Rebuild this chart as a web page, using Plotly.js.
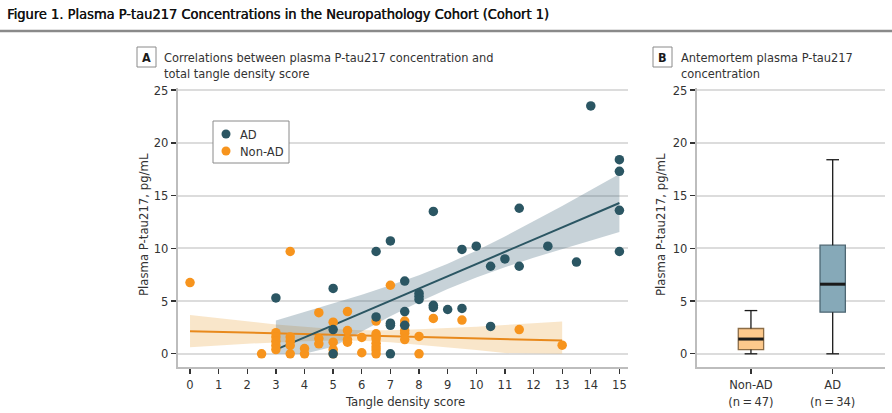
<!DOCTYPE html>
<html>
<head>
<meta charset="utf-8">
<script src="https://cdn.plot.ly/plotly-3.0.1.min.js"></script>
<style>
html,body{margin:0;padding:0;background:#fff;}
#chart{width:892px;height:413px;}
</style>
</head>
<body>
<div id="chart"></div>
<script>
// ---------- Data ----------
// Panel A: AD scatter
const adX = [3,5,5,5,6.5,6.5,7,7,7,7,7.5,7.5,7.5,8,8,8,8.5,8.5,8.5,9,9.5,9.5,10,10.5,10.5,11,11.5,11.5,12.5,13.5,14,15,15,15,15];
const adY = [5.3,6.2,2.3,0,9.7,3.5,10.7,2.9,2.7,0,6.9,4.0,2.7,5.75,5.45,5.15,13.5,4.6,4.4,4.2,4.3,9.9,10.2,8.3,2.6,9.0,13.8,8.3,10.2,8.7,23.5,18.4,17.3,13.6,9.7];
// Panel A: Non-AD scatter
const nonX = [0,2.5,3,3,3,3,3,3.5,3.5,3.5,3.5,3.5,4,4,4.5,4.5,4.5,5,5,5,5,5.5,5.5,5.5,5.5,6,6,6.5,6.5,6.5,6.5,6.5,6.5,6.5,6.5,7,7.5,7.5,7.5,7.5,7.5,8,8,8.5,9.5,11.5,13];
const nonY = [6.75,0,2.0,1.6,1.2,0.8,0.4,9.7,1.6,1.2,0.8,0,0.5,0,3.9,1.45,0.95,3.0,1.1,0.4,0,4.0,2.2,1.35,1.1,1.55,0.1,3.1,1.9,1.65,1.4,1.0,0.65,0.35,0,6.5,3.1,2.75,2.2,1.95,1.35,1.65,0,3.35,3.2,2.3,0.82];
// Panel A: fitted lines with 95% bands
const adFitX   = [3,4,5,6,7,8,9,10,11,12,13,14,15];
const adFitY   = [0.4,1.56,2.72,3.88,5.03,6.19,7.35,8.51,9.67,10.83,11.98,13.14,14.3];
const adFitUp  = [3.15,3.95,4.76,5.6,6.49,7.46,8.55,9.78,11.13,12.55,14.02,15.53,17.05];
const adFitLo  = [0,0,0.68,2.16,3.57,4.92,6.15,7.24,8.21,9.11,9.94,10.75,11.55];
const nonFitX  = [0,1,2,3,4,5,6,7,8,9,10,11,12,13];
const nonFitY  = [2.15,2.08,2.01,1.94,1.88,1.81,1.74,1.67,1.60,1.53,1.47,1.40,1.33,1.26];
const nonFitUp = [3.67,3.38,3.06,2.79,2.57,2.36,2.24,2.24,2.32,2.43,2.57,2.73,2.9,3.06];
const nonFitLo = [0.63,0.78,0.96,1.09,1.19,1.26,1.24,1.1,0.88,0.63,0.37,0.07,0,0];
const xTicksA = [0,1,2,3,4,5,6,7,8,9,10,11,12,13,14,15];
const yTicks  = [0,5,10,15,20,25];
const legendNames = ['AD','Non-AD'];
// Panel B: box plots
const boxCats   = ['Non-AD','AD'];
const boxN      = [47,34];
const boxLow    = [0,0];
const boxQ1     = [0.4,3.95];
const boxMed    = [1.4,6.6];
const boxQ3     = [2.4,10.3];
const boxHigh   = [4.1,18.4];

// ---------- Styles ----------
const W = 892, H = 413;
const FONT = "'Liberation Sans Narrow','DejaVu Sans Condensed','Arial Narrow',sans-serif";
const TXT = '#333333';
const AD_C = '#2b5663', NON_C = '#f7941d';
const px = x => x / W, py = y => 1 - y / H;
const boxFill = ['#fdc98c', '#86a9b8'];
const boxLine = ['#8c6d47', '#4e6773'];
const boxHalf = 0.155;

const traces = [];
// bands
traces.push({x: nonFitX.concat(nonFitX.slice().reverse()), y: nonFitUp.concat(nonFitLo.slice().reverse()),
  type:'scatter', mode:'lines', fill:'toself', fillcolor:'rgba(238,178,95,0.33)', line:{width:0},
  hoverinfo:'skip', showlegend:false, xaxis:'x', yaxis:'y'});
traces.push({x: adFitX.concat(adFitX.slice().reverse()), y: adFitUp.concat(adFitLo.slice().reverse()),
  type:'scatter', mode:'lines', fill:'toself', fillcolor:'rgba(70,105,125,0.3)', line:{width:0},
  hoverinfo:'skip', showlegend:false, xaxis:'x', yaxis:'y'});
// fit lines
traces.push({x: nonFitX, y: nonFitY, type:'scatter', mode:'lines', line:{color:'#e8891c', width:2},
  showlegend:false, xaxis:'x', yaxis:'y'});
traces.push({x: adFitX, y: adFitY, type:'scatter', mode:'lines', line:{color:AD_C, width:2},
  showlegend:false, xaxis:'x', yaxis:'y'});
// points
traces.push({x: nonX, y: nonY, type:'scatter', mode:'markers', name:'Non-AD', showlegend:false,
  marker:{color:NON_C, size:9.5}, xaxis:'x', yaxis:'y'});
traces.push({x: adX, y: adY, type:'scatter', mode:'markers', name:'AD', showlegend:false,
  marker:{color:AD_C, size:9.5}, xaxis:'x', yaxis:'y'});

// Panel B boxes
boxCats.forEach((c, i) => {
  traces.push({x:[i,i,null,i,i,null,i-boxHalf/2,i+boxHalf/2,null,i-boxHalf/2,i+boxHalf/2],
    y:[boxQ3[i],boxHigh[i],null,boxLow[i],boxQ1[i],null,boxHigh[i],boxHigh[i],null,boxLow[i],boxLow[i]],
    type:'scatter', mode:'lines', line:{color:'#1a1a1a', width:1.3}, showlegend:false, hoverinfo:'skip',
    xaxis:'x2', yaxis:'y2'});
  traces.push({type:'box', name:c, x:[i], q1:[boxQ1[i]], median:[boxMed[i]], q3:[boxQ3[i]],
    lowerfence:[boxQ1[i]], upperfence:[boxQ3[i]], width:boxHalf*2, whiskerwidth:0,
    fillcolor:boxFill[i], line:{color:boxLine[i], width:1.3}, showlegend:false,
    xaxis:'x2', yaxis:'y2'});
  traces.push({x:[i-boxHalf, i+boxHalf], y:[boxMed[i], boxMed[i]], type:'scatter', mode:'lines',
    line:{color:'#1a1a1a', width:3}, showlegend:false, hoverinfo:'skip', xaxis:'x2', yaxis:'y2'});
});

const axisCommon = {
  showline:true, linecolor:'#bdbdbd', linewidth:2, ticks:'outside', ticklen:5, tickwidth:1.3,
  tickcolor:'#333', tickfont:{family:FONT, size:12.8, color:TXT}, zeroline:false, automargin:false
};

// custom legend (box + dots + labels)
const legColors = [AD_C, NON_C];
const legRows = [134, 151];
const legShapes = [
  {type:'rect', xref:'paper', yref:'paper', x0:px(213), x1:px(289), y0:py(163), y1:py(121), line:{color:'#8a8a8a', width:1}, fillcolor:'#fff', layer:'above'}
].concat(legRows.map((r, i) => ({type:'circle', xref:'paper', yref:'paper', x0:px(221.5), x1:px(230.5), y0:py(r+4.5), y1:py(r-4.5),
  line:{width:0}, fillcolor:legColors[i], layer:'above'})));
const legAnn = legendNames.map((n, i) => ({text:n, xref:'paper', yref:'paper', x:px(238), y:py(legRows[i]), xanchor:'left', yanchor:'middle',
  showarrow:false, font:{family:FONT, size:12.8, color:TXT}}));

const layout = {
  width:W, height:H, margin:{l:0, r:0, t:0, b:0}, paper_bgcolor:'#fff', plot_bgcolor:'#fff',
  font:{family:FONT, color:TXT}, showlegend:false,
  xaxis: Object.assign({}, axisCommon, {domain:[px(178), px(628)], range:[-0.42, 15.3],
    tickvals:xTicksA, ticktext:xTicksA.map(String), showgrid:false, anchor:'y'}),
  yaxis: Object.assign({}, axisCommon, {domain:[py(367), py(88)], range:[-1.25, 25.2],
    tickvals:yTicks, showgrid:true, gridcolor:'#dcdcdc', gridwidth:2, anchor:'x'}),
  xaxis2: Object.assign({}, axisCommon, {domain:[px(697), px(885)], range:[-0.66, 1.64],
    tickvals:[0,1], ticktext:boxCats.map((c,i)=>c+'<br>(n\u2009=\u2009'+boxN[i]+')'), showgrid:false, anchor:'y2'}),
  yaxis2: Object.assign({}, axisCommon, {domain:[py(367), py(88)], range:[-1.25, 25.2],
    tickvals:yTicks, showgrid:true, gridcolor:'#dcdcdc', gridwidth:2, anchor:'x2'}),
  shapes:[
    {type:'line', xref:'paper', yref:'paper', x0:0, x1:1, y0:py(31), y1:py(31), line:{color:'#8a8a8a', width:2.5}},
    {type:'rect', xref:'paper', yref:'paper', x0:px(137), x1:px(156), y0:py(67), y1:py(47), line:{color:'#8a8a8a', width:1}, fillcolor:'#fff'},
    {type:'rect', xref:'paper', yref:'paper', x0:px(653), x1:px(672), y0:py(67), y1:py(47), line:{color:'#8a8a8a', width:1}, fillcolor:'#fff'}
  ].concat(legShapes),
  annotations:[
    {text:'Figure 1. Plasma P-tau217 Concentrations in the Neuropathology Cohort (Cohort 1)', xref:'paper', yref:'paper',
      x:px(5), y:py(14), xanchor:'left', yanchor:'middle', showarrow:false,
      font:{family:FONT, size:14.5, color:'#111', shadow:'0.45px 0 0 #111'}},
    {text:'<b>A</b>', xref:'paper', yref:'paper', x:px(146.5), y:py(57), xanchor:'center', yanchor:'middle', showarrow:false, font:{family:FONT, size:12.5, color:'#1a1a1a'}},
    {text:'Correlations between plasma P-tau217 concentration and', xref:'paper', yref:'paper', x:px(162), y:py(57), xanchor:'left', yanchor:'middle', showarrow:false, font:{family:FONT, size:12.7, color:TXT}},
    {text:'total tangle density score', xref:'paper', yref:'paper', x:px(162), y:py(73), xanchor:'left', yanchor:'middle', showarrow:false, font:{family:FONT, size:12.7, color:TXT}},
    {text:'<b>B</b>', xref:'paper', yref:'paper', x:px(662.5), y:py(57), xanchor:'center', yanchor:'middle', showarrow:false, font:{family:FONT, size:12.5, color:'#1a1a1a'}},
    {text:'Antemortem plasma P-tau217', xref:'paper', yref:'paper', x:px(679), y:py(57), xanchor:'left', yanchor:'middle', showarrow:false, font:{family:FONT, size:12.7, color:TXT}},
    {text:'concentration', xref:'paper', yref:'paper', x:px(679), y:py(73), xanchor:'left', yanchor:'middle', showarrow:false, font:{family:FONT, size:12.7, color:TXT}},
    {text:'Plasma P-tau217, pg/mL', xref:'paper', yref:'paper', x:px(143), y:py(225), xanchor:'center', yanchor:'middle', textangle:-90, showarrow:false, font:{family:FONT, size:13, color:TXT}},
    {text:'Plasma P-tau217, pg/mL', xref:'paper', yref:'paper', x:px(660), y:py(225), xanchor:'center', yanchor:'middle', textangle:-90, showarrow:false, font:{family:FONT, size:13, color:TXT}},
    {text:'Tangle density score', xref:'paper', yref:'paper', x:px(405), y:py(401), xanchor:'center', yanchor:'middle', showarrow:false, font:{family:FONT, size:13, color:TXT}}
  ].concat(legAnn)
};

Plotly.newPlot('chart', traces, layout, {displayModeBar:false, staticPlot:true});
</script>
</body>
</html>
